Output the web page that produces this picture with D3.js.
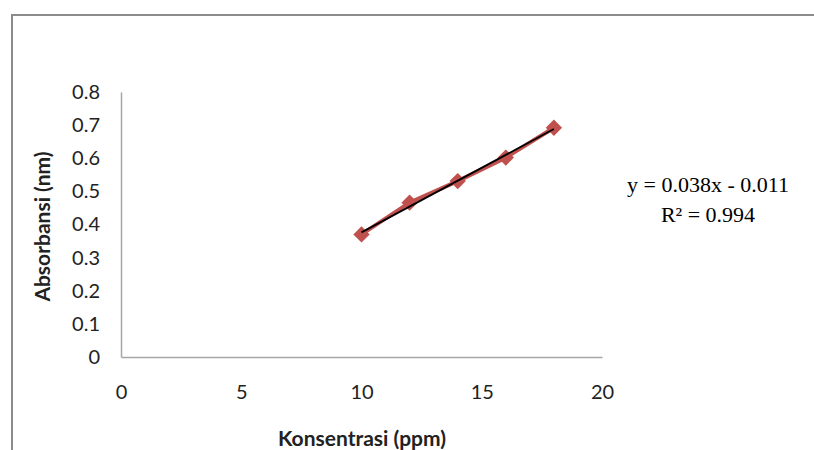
<!DOCTYPE html>
<html>
<head>
<meta charset="utf-8">
<script src="https://cdn.jsdelivr.net/npm/d3@7"></script>
<style>
  body { margin: 0; background: #fff; }
  svg { display: block; }
</style>
</head>
<body>
<div id="chart"></div>
<script>
// calibration data
var konsentrasi = [10, 12, 14, 16, 18];
var absorbansi = [0.370, 0.466, 0.531, 0.602, 0.692];
var xTicks = [0, 5, 10, 15, 20];
var yTicks = [0, 0.1, 0.2, 0.3, 0.4, 0.5, 0.6, 0.7, 0.8];
var equationLines = ["y = 0.038x - 0.011", "R² = 0.994"];

var width = 814,
    height = 450;

var svg = d3.select("#chart").append("svg")
    .attr("width", width)
    .attr("height", height);

// chart area border
svg.append("path")
    .attr("d", "M12,450 L12,15 L814,15")
    .attr("fill", "none")
    .attr("stroke", "#8c8c8c")
    .attr("stroke-width", 2);

var x = d3.scaleLinear().domain([0, 20]).range([121, 602]);
var y = d3.scaleLinear().domain([0, 0.8]).range([357, 92]);

var sans = "Lato, 'Open Sans', sans-serif";

// axes
var xAxis = svg.append("g")
    .attr("transform", "translate(0," + y(0) + ")")
    .call(d3.axisBottom(x).tickValues(xTicks).tickSize(0).tickPadding(28).tickFormat(d3.format("d")));
xAxis.select(".domain").attr("stroke", "#a6a6a6").attr("stroke-width", 1.5);

var yAxis = svg.append("g")
    .attr("transform", "translate(" + x(0) + ",0)")
    .call(d3.axisLeft(y).tickValues(yTicks).tickSize(0).tickPadding(21).tickFormat(function(d) { return d === 0 ? "0" : d3.format(".1f")(d); }));
yAxis.select(".domain").attr("stroke", "#a6a6a6").attr("stroke-width", 1.5);

svg.selectAll(".tick text")
    .attr("font-family", sans)
    .attr("font-size", 20)
    .attr("fill", "#222");

// axis titles
svg.append("text")
    .attr("x", 362)
    .attr("y", 446)
    .attr("text-anchor", "middle")
    .attr("font-family", sans)
    .attr("font-weight", "bold")
    .attr("font-size", 21)
    .attr("fill", "#222")
    .text("Konsentrasi (ppm)");

svg.append("text")
    .attr("transform", "translate(50," + (y(0.4) + 2) + ")rotate(-90)")
    .attr("text-anchor", "middle")
    .attr("font-family", sans)
    .attr("font-weight", "bold")
    .attr("font-size", 21)
    .attr("fill", "#222")
    .text("Absorbansi (nm)");

// data series
var points = konsentrasi.map(function(k, i) { return [k, absorbansi[i]]; });

svg.append("path")
    .datum(points)
    .attr("fill", "none")
    .attr("stroke", "#c0504d")
    .attr("stroke-width", 4)
    .attr("stroke-linejoin", "round")
    .attr("d", d3.line().x(function(d) { return x(d[0]); }).y(function(d) { return y(d[1]); }));

svg.selectAll(".marker")
    .data(points)
  .enter().append("path")
    .attr("class", "marker")
    .attr("transform", function(d) { return "translate(" + x(d[0]) + "," + y(d[1]) + ")"; })
    .attr("d", d3.symbol().type(d3.symbolDiamond2).size(170))
    .attr("fill", "#c0504d");

// linear trendline (least squares)
var mx = d3.mean(konsentrasi), my = d3.mean(absorbansi);
var sxy = d3.sum(points, function(d) { return (d[0] - mx) * (d[1] - my); });
var sxx = d3.sum(konsentrasi, function(k) { return (k - mx) * (k - mx); });
var slope = sxy / sxx, intercept = my - slope * mx;
var x0 = d3.min(konsentrasi), x1 = d3.max(konsentrasi);

svg.append("line")
    .attr("x1", x(x0)).attr("y1", y(slope * x0 + intercept))
    .attr("x2", x(x1)).attr("y2", y(slope * x1 + intercept))
    .attr("stroke", "#000")
    .attr("stroke-width", 1.8);

// equation label
svg.selectAll(".eq")
    .data(equationLines)
  .enter().append("text")
    .attr("class", "eq")
    .attr("x", 708)
    .attr("y", function(d, i) { return 192 + i * 30; })
    .attr("text-anchor", "middle")
    .attr("font-family", "'Liberation Serif', 'Times New Roman', serif")
    .attr("font-size", 22)
    .attr("fill", "#000")
    .text(function(d) { return d; });
</script>
</body>
</html>
